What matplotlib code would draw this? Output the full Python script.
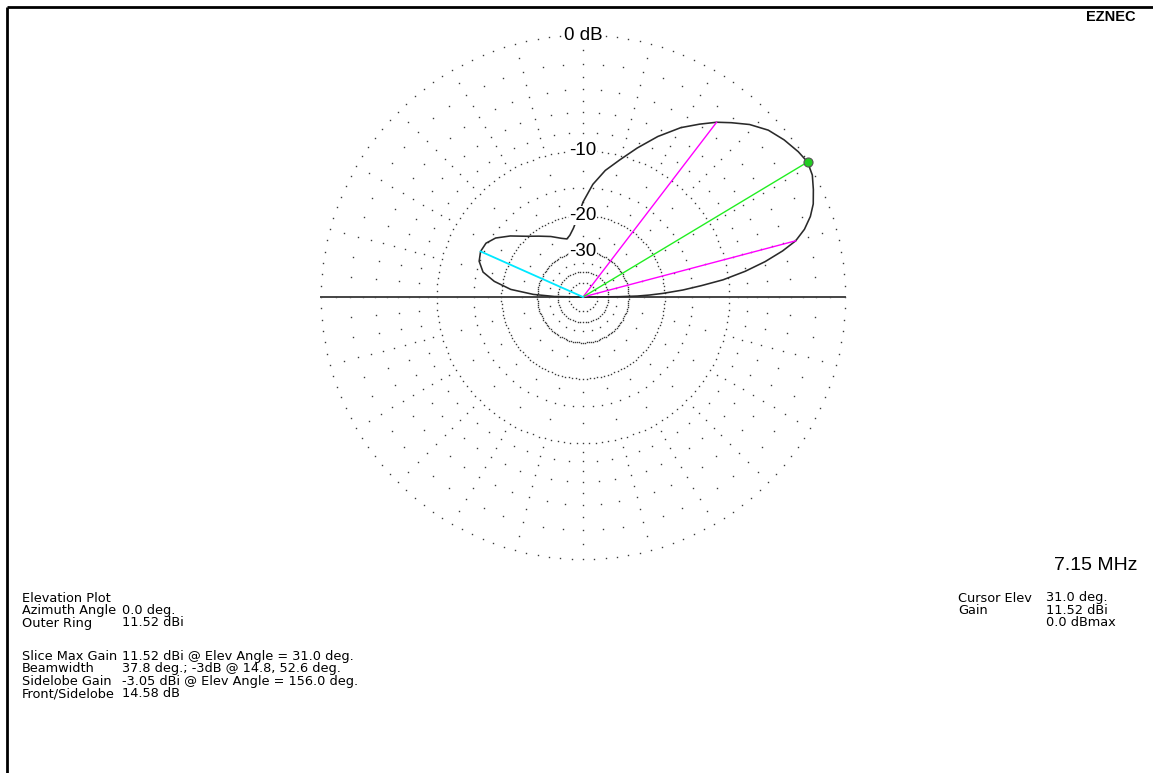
import numpy as np
import matplotlib.pyplot as plt

plt.rcParams['font.family'] = ['Liberation Sans', 'DejaVu Sans']

# elevation pattern, gain in dBi vs elevation angle (deg)
elev_deg = [0, 0.5, 1, 1.7, 2.6, 4, 5.5, 7, 9, 11, 13, 14.8, 17, 19.5, 22, 25, 28,
            31, 34, 38, 42, 46, 49.6, 52.6, 56, 60, 65, 70, 75, 80, 85, 90, 94,
            98, 102, 105.5, 110, 118, 126, 133, 140, 146, 151, 156, 161, 166,
            170, 174, 177, 179, 180]
gain_dbi = [-99.99, -22.5, -15.5, -12.0, -8.8, -5.0, -2.0, 0.9, 3.5, 5.6, 7.3, 8.52,
            9.4, 10.1, 10.6, 11.0, 11.37, 11.52, 11.37, 11.07, 10.67, 10.0, 9.2,
            8.52, 7.6, 6.5, 4.8, 2.9, 1.0, -0.7, -2.9, -5.9, -9.0, -11.3, -12.9,
            -13.7, -13.1, -11.5, -9.9, -8.2, -5.9, -4.1, -3.23, -3.05, -3.4,
            -4.5, -6.8, -10.5, -17.0, -26.5, -99.99]

outer_ring_dbi = 11.52
max_elev = 31.0
bw_elev = [14.8, 52.6]
side_elev, side_dbi = 156.0, -3.05

ring_labels_db = [0, -10, -20, -30]
ring_label_text = ['0 dB', '-10', '-20', '-30']

# grid rings (dB below outer ring) and dot spacing in degrees
rings_major = [0, -10, -20, -30]
rings_inner = [-40, -50]
rings_5deg = [-2, -4, -6, -8, -15]
rings_15deg = [-1, -3, -5, -7, -9, -12.5, -17.5, -25, -35]

left_rows1 = [('Elevation Plot', ''), ('Azimuth Angle', '0.0 deg.'),
              ('Outer Ring', '11.52 dBi')]
left_rows2 = [('Slice Max Gain', '11.52 dBi @ Elev Angle = 31.0 deg.'),
              ('Beamwidth', '37.8 deg.; -3dB @ 14.8, 52.6 deg.'),
              ('Sidelobe Gain', '-3.05 dBi @ Elev Angle = 156.0 deg.'),
              ('Front/Sidelobe', '14.58 dB')]
right_rows = [('Cursor Elev', '31.0 deg.'), ('Gain', '11.52 dBi'), ('', '0.0 dBmax')]
freq_text = '7.15 MHz'


def arrl(db):
    # ARRL log scale: 0.89 per 2 dB
    return 0.89 ** (-np.asarray(db, dtype=float) / 2.0)


W, H = 1153, 773
fig = plt.figure(figsize=(W / 100, H / 100), dpi=100)

ov = fig.add_axes([0, 0, 1, 1])
ov.set_xlim(0, W)
ov.set_ylim(H, 0)
ov.axis('off')

cx, cy, R = 583, 297, 262
ax = fig.add_axes([(cx - R) / W, 1 - (cy + R) / H, 2 * R / W, 2 * R / H],
                  projection='polar')
ax.set_theta_zero_location('E')
ax.set_ylim(0, 1)
ax.axis('off')


def dot_ring(db, step, ms=1.0, color='#3a3a3a'):
    th = np.radians(np.arange(0, 360, step))
    ax.plot(th, np.full(th.shape, arrl(db)), ls='none', marker='s', ms=ms,
            mew=0, color=color, clip_on=False, zorder=1)


for d in rings_major:
    dot_ring(d, 2.5)
dot_ring(rings_inner[0], 6)
dot_ring(rings_inner[1], 15)
for d in rings_5deg:
    dot_ring(d, 5)
for d in rings_15deg:
    dot_ring(d, 15)

# ground line
ax.plot([0, 0], [0, 1], color='#444444', lw=1.4, clip_on=False, zorder=2)
ax.plot([np.pi, np.pi], [0, 1], color='#444444', lw=1.4, clip_on=False, zorder=2)

# pattern
th = np.radians(elev_deg)
r = arrl(np.array(gain_dbi) - outer_ring_dbi)
ax.plot(th, r, color='#2a2a2a', lw=1.15, zorder=3, clip_on=False)

# beamwidth, max and sidelobe markers
for e in bw_elev:
    ax.plot([np.radians(e)] * 2, [0, arrl(-3)], color='#ff00ff', lw=1.0, zorder=4)
ax.plot([np.radians(max_elev)] * 2, [0, 1], color='#22ee22', lw=1.0, zorder=4)
ax.plot([np.radians(side_elev)] * 2, [0, arrl(side_dbi - outer_ring_dbi)],
        color='#00e8ff', lw=1.3, zorder=4)
ax.plot(np.radians(max_elev), 1, marker='o', ms=6.5, mfc='#22cc22', mec='#555555',
        mew=0.8, zorder=5, clip_on=False)

for d, t in zip(ring_labels_db, ring_label_text):
    ax.text(np.pi / 2, arrl(d), t, ha='center', va='center', fontsize=13.5,
            zorder=6, bbox=dict(facecolor='white', edgecolor='none', pad=0.6))

# frame
ov.plot([7, W], [7, 7], color='black', lw=2.0, solid_capstyle='butt')
ov.plot([7, 7], [7, H], color='black', lw=2.0, solid_capstyle='butt')

ov.text(1136, 17, 'EZNEC', ha='right', va='center', fontsize=10.5, fontweight='bold')
ov.text(1138, 565, freq_text, ha='right', va='center', fontsize=14)

info = dict(ha='left', va='center', fontsize=9.3, family='DejaVu Sans')
y = 598
for lab, val in left_rows1:
    ov.text(22, y, lab, **info)
    ov.text(122, y, val, **info)
    y += 12.5
y = 656.5
for lab, val in left_rows2:
    ov.text(22, y, lab, **info)
    ov.text(122, y, val, **info)
    y += 12.4

y = 598
for lab, val in right_rows:
    ov.text(958, y, lab, **info)
    ov.text(1046, y, val, **info)
    y += 12.5

fig.savefig('out.png', dpi=100, facecolor='white')
